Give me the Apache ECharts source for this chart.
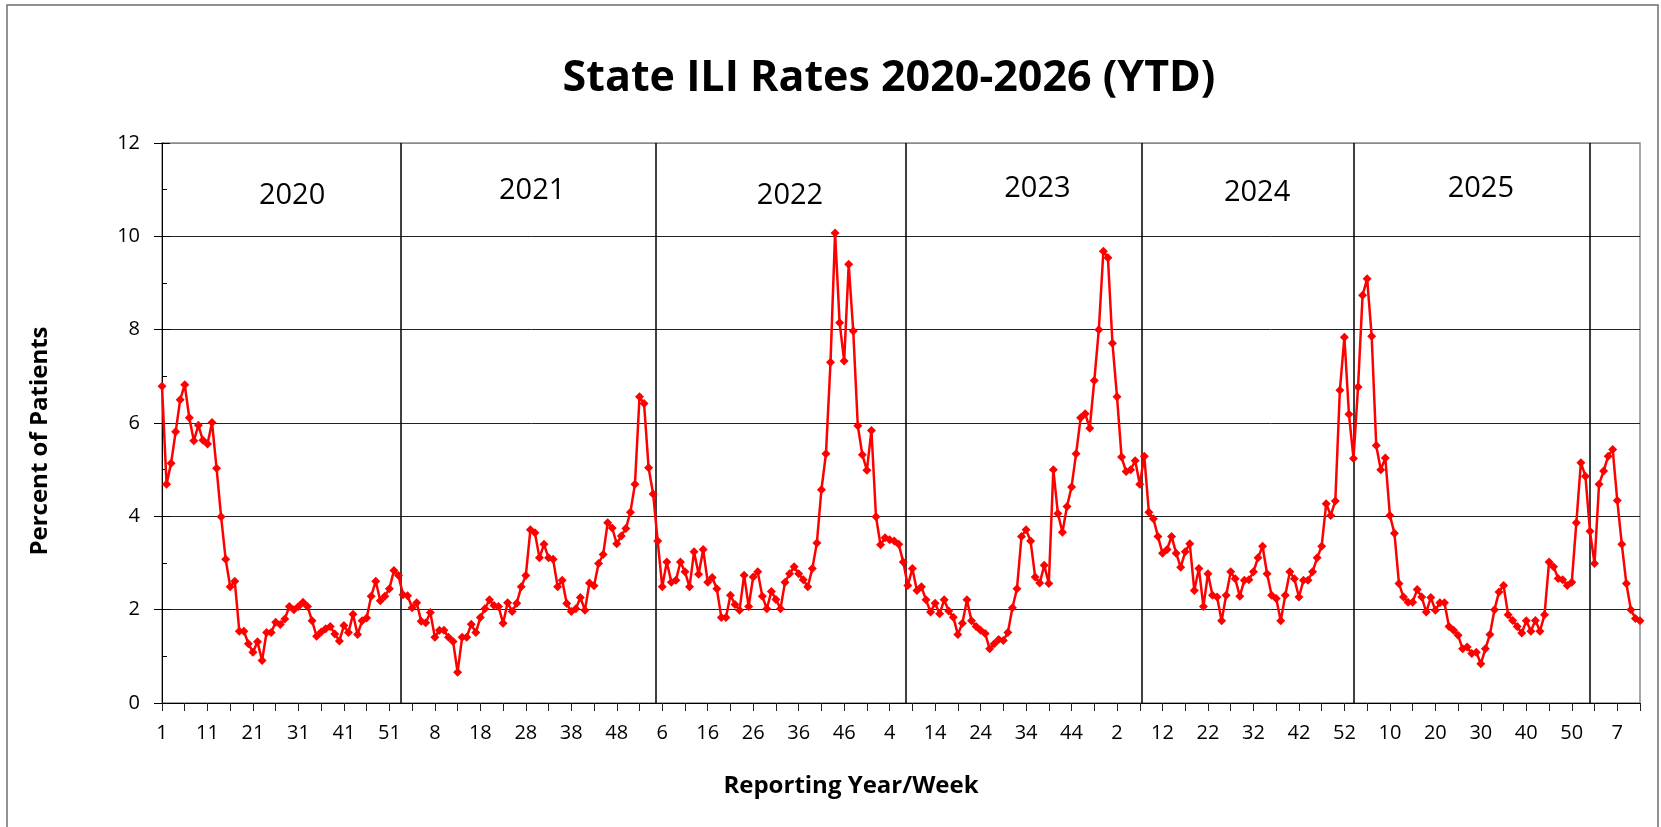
<!DOCTYPE html>
<html>
<head>
<meta charset="utf-8">
<script src="https://cdn.jsdelivr.net/npm/echarts@6/dist/echarts.min.js"></script>
<style>
html,body{margin:0;padding:0;background:#fff;}
#chart{width:1661px;height:827px;}
</style>
</head>
<body>
<div id="chart"></div>
<script>
// ---------------- DATA ----------------
const seasonYears = ['2020', '2021', '2022', '2023', '2024', '2025', '2026'];
const weeksPerYear = [53, 52, 52, 52, 52, 53, 12];

const rates2020 = [6.79, 4.69, 5.14, 5.81, 6.5, 6.82, 6.11, 5.62, 5.95, 5.63,
  5.55, 6.01, 5.03, 3.99, 3.08, 2.49, 2.61, 1.54, 1.54, 1.27,
  1.09, 1.31, 0.91, 1.51, 1.51, 1.73, 1.68, 1.8, 2.07, 2.0,
  2.07, 2.16, 2.07, 1.76, 1.43, 1.52, 1.59, 1.64, 1.48, 1.33,
  1.66, 1.51, 1.9, 1.47, 1.76, 1.82, 2.29, 2.61, 2.19, 2.29,
  2.45, 2.84, 2.73];
const rates2021 = [2.32, 2.3, 2.04, 2.15, 1.75, 1.72, 1.94, 1.41, 1.56, 1.56,
  1.41, 1.32, 0.66, 1.41, 1.41, 1.69, 1.51, 1.83, 2.02, 2.21,
  2.09, 2.07, 1.71, 2.15, 1.96, 2.14, 2.49, 2.73, 3.71, 3.65,
  3.11, 3.4, 3.11, 3.08, 2.49, 2.63, 2.13, 1.96, 2.02, 2.26,
  1.99, 2.57, 2.51, 2.99, 3.18, 3.86, 3.75, 3.41, 3.58, 3.74,
  4.09, 4.69];
const rates2022 = [6.56, 6.42, 5.04, 4.48, 3.47, 2.49, 3.02, 2.59, 2.63, 3.02,
  2.81, 2.49, 3.24, 2.76, 3.29, 2.59, 2.69, 2.45, 1.83, 1.83,
  2.31, 2.11, 1.99, 2.74, 2.07, 2.7, 2.81, 2.29, 2.02, 2.39,
  2.22, 2.02, 2.59, 2.77, 2.92, 2.77, 2.64, 2.49, 2.88, 3.43,
  4.57, 5.34, 7.3, 10.07, 8.15, 7.33, 9.4, 7.97, 5.94, 5.32,
  4.99, 5.84];
const rates2023 = [3.99, 3.39, 3.54, 3.5, 3.47, 3.4, 3.02, 2.52, 2.88, 2.41,
  2.49, 2.21, 1.95, 2.14, 1.91, 2.21, 1.97, 1.84, 1.47, 1.71,
  2.21, 1.76, 1.64, 1.56, 1.49, 1.16, 1.27, 1.36, 1.34, 1.51,
  2.04, 2.45, 3.57, 3.71, 3.47, 2.7, 2.57, 2.95, 2.56, 5.0,
  4.06, 3.66, 4.21, 4.63, 5.34, 6.11, 6.2, 5.89, 6.91, 8.0,
  9.68, 9.54];
const rates2024 = [7.71, 6.56, 5.27, 4.96, 5.0, 5.19, 4.69, 5.29, 4.09, 3.95,
  3.57, 3.21, 3.29, 3.57, 3.21, 2.91, 3.24, 3.41, 2.41, 2.88,
  2.07, 2.77, 2.31, 2.27, 1.76, 2.31, 2.81, 2.66, 2.29, 2.63,
  2.64, 2.81, 3.11, 3.36, 2.77, 2.31, 2.24, 1.76, 2.31, 2.81,
  2.66, 2.27, 2.63, 2.63, 2.81, 3.11, 3.36, 4.27, 4.02, 4.33,
  6.7, 7.84];
const rates2025 = [6.19, 5.24, 6.77, 8.74, 9.09, 7.86, 5.52, 5.0, 5.25, 4.02,
  3.64, 2.56, 2.27, 2.16, 2.16, 2.43, 2.27, 1.95, 2.26, 1.99,
  2.15, 2.15, 1.64, 1.56, 1.45, 1.16, 1.2, 1.06, 1.09, 0.84,
  1.16, 1.47, 2.0, 2.38, 2.52, 1.89, 1.77, 1.64, 1.5, 1.76,
  1.54, 1.77, 1.54, 1.89, 3.02, 2.92, 2.67, 2.64, 2.52, 2.59,
  3.86, 5.15, 4.86];
const rates2026 = [3.68, 2.99, 4.69, 4.97, 5.29, 5.43, 4.34, 3.4, 2.56, 2.0, 1.81, 1.76];

const yTickValues = [0, 2, 4, 6, 8, 10, 12];
const yearBandNames = ['2020', '2021', '2022', '2023', '2024', '2025'];

// category (tick) labels: week numbers within each reporting year
const weekLabels = [];
weeksPerYear.forEach(function (n) { for (let w = 1; w <= n; w++) weekLabels.push(String(w)); });
const iliRates = [].concat(rates2020, rates2021, rates2022, rates2023, rates2024, rates2025, rates2026);

// ---------------- LAYOUT ----------------
// year separator lines and year captions, in week-index units along x and percent units along y
const separatorAt = [52.5, 108.5, 163.5, 215.4, 262.1, 313.9];
const captionAtX = [28.6, 81.4, 138.1, 192.5, 240.8, 290.0];
const captionAtY = [10.86, 10.98, 10.86, 11.02, 10.93, 11.02];
const FONT = "'Open Sans', 'Noto Sans', sans-serif";

const chart = echarts.init(document.getElementById('chart'), null, {renderer: 'canvas'});

const option = {
  backgroundColor: '#ffffff',
  animation: false,
  textStyle: {fontFamily: FONT},
  grid: {
    left: 162, top: 143, width: 1478, height: 560,
    show: true, borderColor: '#8a8a8a', borderWidth: 1.5, containLabel: false
  },
  xAxis: [
    {
      type: 'category',
      data: weekLabels,
      boundaryGap: false,
      axisLine: {show: true, lineStyle: {color: '#000', width: 1}},
      axisTick: {show: true, interval: 4, length: 8, inside: false, lineStyle: {color: '#222', width: 1}},
      axisLabel: {interval: 9, fontSize: 20, color: '#000', margin: 20, fontFamily: FONT},
      splitLine: {show: false}
    },
    {
      type: 'value', min: 0, max: weekLabels.length - 1, show: false
    }
  ],
  yAxis: [
    {
      type: 'value', min: yTickValues[0], max: yTickValues[yTickValues.length - 1], interval: 2,
      axisLine: {show: true, lineStyle: {color: '#000', width: 1}},
      axisTick: {show: true, length: 8, inside: false, lineStyle: {color: '#000'}},
      axisLabel: {fontSize: 20, color: '#000', margin: 22, fontFamily: FONT},
      splitLine: {show: true, lineStyle: {color: ['#222', '#222', '#222', '#222', '#222', '#222', '#8a8a8a'], width: 1}}
    },
    {
      type: 'value', min: yTickValues[0], max: yTickValues[yTickValues.length - 1], interval: 2,
      position: 'left',
      axisLine: {show: false},
      axisTick: {show: true, length: 8, inside: true, lineStyle: {color: '#000'}},
      minorTick: {show: true, splitNumber: 2, length: 5, lineStyle: {color: '#000'}},
      axisLabel: {show: false},
      splitLine: {show: false}
    }
  ],
  series: [
    {
      name: 'ILI',
      type: 'line',
      data: iliRates,
      xAxisIndex: 0, yAxisIndex: 0,
      z: 5,
      symbol: 'diamond',
      symbolSize: 9,
      showSymbol: true,
      showAllSymbol: true,
      itemStyle: {color: '#ff0000'},
      lineStyle: {color: '#ff0000', width: 2.5}
    },
    {
      name: 'separators',
      type: 'line',
      xAxisIndex: 1, yAxisIndex: 0,
      data: [],
      silent: true,
      markLine: {
        silent: true,
        symbol: ['none', 'none'],
        label: {show: false},
        lineStyle: {color: '#000', width: 1.5, type: 'solid'},
        data: separatorAt.map(function (x) { return {xAxis: x}; })
      }
    },
    {
      name: 'years',
      type: 'scatter',
      xAxisIndex: 1, yAxisIndex: 0,
      silent: true,
      symbolSize: 1,
      itemStyle: {color: '#ffffff', opacity: 1},
      label: {show: true, position: 'inside', formatter: '{b}', fontSize: 29, color: '#000', opacity: 1, fontFamily: FONT},
      data: yearBandNames.map(function (n, i) { return {name: n, value: [captionAtX[i], captionAtY[i]]}; })
    }
  ],
  graphic: [
    {
      type: 'rect', silent: true, z: -1,
      shape: {x: 7, y: 5, width: 1651, height: 840},
      style: {fill: 'none', stroke: '#6e6e6e', lineWidth: 1.5}
    },
    {
      type: 'text', x: 889, y: 79, silent: true,
      style: {text: 'State ILI Rates 2020-2026 (YTD)', fontSize: 43, fontWeight: 'bold', fontFamily: FONT,
        fill: '#000', align: 'center', verticalAlign: 'middle'}
    },
    {
      type: 'text', x: 851, y: 786, silent: true,
      style: {text: 'Reporting Year/Week', fontSize: 24, fontWeight: 'bold', fontFamily: FONT,
        fill: '#000', align: 'center', verticalAlign: 'middle'}
    },
    {
      type: 'text', x: 40, y: 441, rotation: Math.PI / 2, silent: true,
      style: {text: 'Percent of Patients', fontSize: 24, fontWeight: 'bold', fontFamily: FONT,
        fill: '#000', align: 'center', verticalAlign: 'middle'}
    }
  ]
};
chart.setOption(option);
</script>
</body>
</html>
